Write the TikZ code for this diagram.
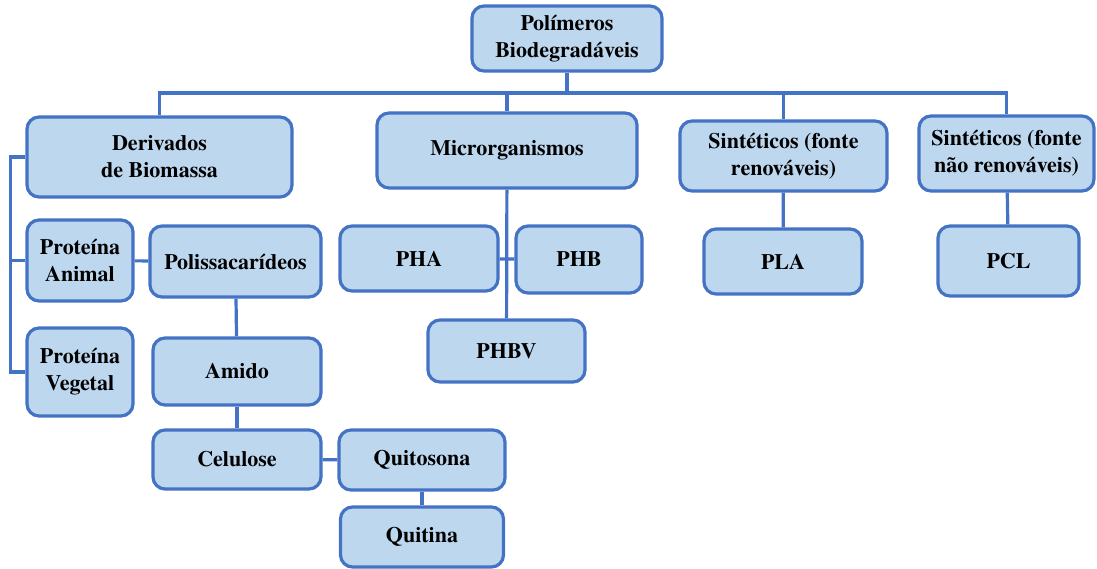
\documentclass[tikz,border=0pt]{standalone}
\usepackage{fontspec}
\setmainfont{texgyretermes}[Extension=.otf, UprightFont=*-regular, BoldFont=*-bold]
\usetikzlibrary{positioning,calc}
\definecolor{boxfill}{HTML}{BDD7EE}
\definecolor{boxline}{HTML}{4472C4}
\tikzset{
  box/.style={draw=boxline, fill=boxfill, line width=3.2pt, rounded corners=12pt,
    align=center, inner sep=0pt, font=\fontsize{22}{27}\selectfont\bfseries},
  link/.style={draw=boxline, line width=3.2pt}
}

\begin{document}
\begin{tikzpicture}[x=1pt,y=-1pt]
\useasboundingbox (0,0) rectangle (1097,569);
% top level
\node[box, minimum width=190, minimum height=65] (poli) at (567,38.5) {Polímeros\\Biodegradáveis};
\coordinate (bus) at (0,93);
% second level
\node[box, minimum width=265, minimum height=80] (deriv) at (159.5,157) {Derivados\\de Biomassa};
\node[box, minimum width=260, minimum height=75] (micro) at (507,150.5) {Microrganismos};
\node[box, minimum width=207, minimum height=70] (sren) at (783.5,156) {Sintéticos (fonte\\renováveis)};
\node[box, minimum width=175, minimum height=75] (snao) at (1006.5,153.5) {Sintéticos (fonte\\não renováveis)};
% biomassa
\node[box, minimum width=106, minimum height=81] (panimal) at (80,260.5) {Proteína\\Animal};
\node[box, minimum width=106, minimum height=88] (pvegetal) at (80,372) {Proteína\\Vegetal};
\node[box, minimum width=171, minimum height=71] (polis) at (235.5,261.5) {Polissacarídeos};
\node[box, minimum width=168, minimum height=67] (amido) at (237,371.5) {Amido};
\node[box, minimum width=168, minimum height=59] (celul) at (237,459.5) {Celulose};
\node[box, minimum width=166, minimum height=60] (quitos) at (422,460) {Quitosona};
\node[box, minimum width=163, minimum height=60] (quitina) at (422,537) {Quitina};
% microrganismos
\node[box, minimum width=158, minimum height=65] (pha) at (419,258.5) {PHA};
\node[box, minimum width=126, minimum height=67] (phb) at (579,259.5) {PHB};
\node[box, minimum width=157, minimum height=62] (phbv) at (506.5,351) {PHBV};
% sinteticos
\node[box, minimum width=158, minimum height=65] (pla) at (783,261.5) {PLA};
\node[box, minimum width=141, minimum height=70] (pcl) at (1008.5,261) {PCL};
\begin{scope}[link]
\draw (poli) -- (poli |- bus);
\draw (deriv) -- (deriv |- bus) -- (snao |- bus) -- (snao);
\draw (micro) -- (micro |- bus);
\draw (sren) -- (sren |- bus);
\draw (deriv.west) -- ++(-15,0) |- (pvegetal.west);
\draw (panimal.west) -- ++(-15,0);
\draw (panimal) -- (polis);
\draw (polis) -- (amido);
\draw (amido) -- (celul);
\draw (celul) -- (quitos);
\draw (quitos) -- (quitina);
\draw (micro) -- (phbv);
\draw (pha) -- (phb);
\draw (sren) -- (pla);
\draw (snao) -- (pcl);
\end{scope}
\end{tikzpicture}
\end{document}
